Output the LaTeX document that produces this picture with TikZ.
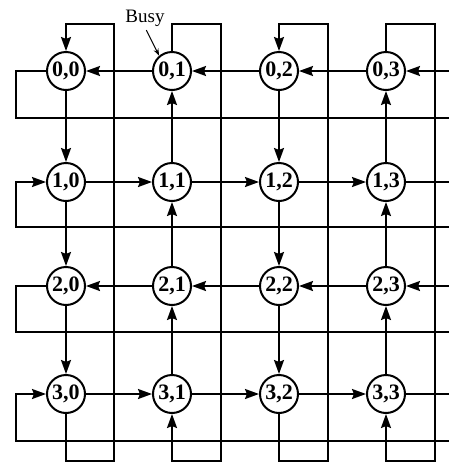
\documentclass[tikz,border=0pt]{standalone}
\usepackage{fontspec}
\setmainfont{Liberation Serif}
\usetikzlibrary{arrows.meta}
\begin{document}
\begin{tikzpicture}[x=1pt,y=-1pt,
  wire/.style={line width=2pt},
  link/.style={wire, -{Stealth[length=14pt,width=10pt,inset=2pt]}},
  pe/.style={circle, draw, line width=2pt, minimum size=38pt, inner sep=0pt,
    fill=white, font=\bfseries\fontsize{22}{22}\selectfont},
  note/.style={inner sep=1pt, font=\fontsize{19}{19}\selectfont}]
\useasboundingbox (0,0) rectangle (448,464);

% processing elements
\foreach \r/\y in {0/71,1/182,2/286,3/394}
  \foreach \c/\x in {0/66,1/172,2/279,3/386}
    \node[pe] (n\r\c) at (\x,\y) {\r,\c};

% corners of the row wrap-arounds
\foreach \r/\y/\w in {0/71/118,1/182/227,2/286/332,3/394/441}{
  \coordinate (rl\r) at (16,\w);
  \coordinate (rr\r) at (449,\w);
  \coordinate (re\r) at (449,\y);
}
% corners of the column wrap-arounds
\foreach \c/\x in {0/114,1/221,2/328,3/435}{
  \coordinate (ct\c) at (\x,24);
  \coordinate (cb\c) at (\x,461);
}

% rows 0 and 2 shift to the left
\foreach \r in {0,2}{
  \draw[link] (re\r) -- (n\r3);
  \draw[link] (n\r3) -- (n\r2);
  \draw[link] (n\r2) -- (n\r1);
  \draw[link] (n\r1) -- (n\r0);
  \draw[wire] (n\r0) -| (rl\r) -- (rr\r);
}
% rows 1 and 3 shift to the right
\foreach \r in {1,3}{
  \draw[link] (rr\r) -- (rl\r) |- (n\r0);
  \draw[link] (n\r0) -- (n\r1);
  \draw[link] (n\r1) -- (n\r2);
  \draw[link] (n\r2) -- (n\r3);
  \draw[wire] (n\r3) -- (re\r);
}
% columns 0 and 2 shift downwards
\foreach \c in {0,2}{
  \draw[link] (n3\c) |- (cb\c) -- (ct\c) -| (n0\c);
  \draw[link] (n0\c) -- (n1\c);
  \draw[link] (n1\c) -- (n2\c);
  \draw[link] (n2\c) -- (n3\c);
}
% columns 1 and 3 shift upwards
\foreach \c in {1,3}{
  \draw[link] (n0\c) |- (ct\c) -- (cb\c) -| (n3\c);
  \draw[link] (n3\c) -- (n2\c);
  \draw[link] (n2\c) -- (n1\c);
  \draw[link] (n1\c) -- (n0\c);
}

% busy marker
\node[note] (busy) at (145,18) {Busy};
\draw[line width=1pt, -{Stealth[length=7pt,width=5pt]}, shorten <=3pt]
  (busy.south) -- (n01.130);
\end{tikzpicture}
\end{document}
